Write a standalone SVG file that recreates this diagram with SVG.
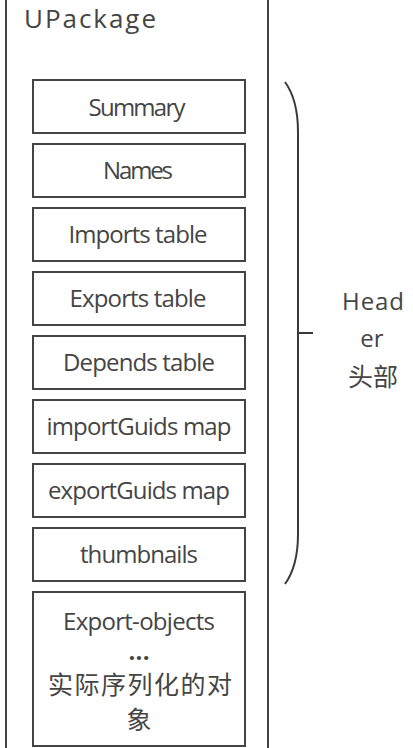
<svg xmlns="http://www.w3.org/2000/svg" width="413" height="748" viewBox="0 0 413 748">
<style>
.box{fill:#fff;stroke:#444;stroke-width:2}
.lbl{font-family:"Open Sans","Liberation Sans",sans-serif;font-size:24px;fill:#454545;text-anchor:middle}
.cjk{font-family:"Noto Sans CJK SC",sans-serif;font-size:25px;fill:#454545;text-anchor:middle}
.brace{fill:none;stroke:#3a3a3a;stroke-width:2}
</style>
<rect x="0" y="0" width="413" height="748" fill="#fff"/>
<g id="upackage">
<rect x="6" y="-10" width="262" height="770" fill="#fff" stroke="#444" stroke-width="2"/>
<text x="24" y="28" font-family="Open Sans, Liberation Sans, sans-serif" font-size="26" fill="#454545" textLength="132" lengthAdjust="spacing">UPackage</text>
</g>
<g id="summary"><rect class="box" x="33" y="80" width="212" height="53"/><text class="lbl" x="137" y="116" textLength="97" lengthAdjust="spacing">Summary</text></g>
<g id="names"><rect class="box" x="33" y="144" width="212" height="53"/><text class="lbl" x="138" y="179" textLength="70" lengthAdjust="spacing">Names</text></g>
<g id="imports"><rect class="box" x="33" y="208" width="212" height="53"/><text class="lbl" x="138" y="243" textLength="139" lengthAdjust="spacing">Imports table</text></g>
<g id="exports"><rect class="box" x="33" y="272" width="212" height="53"/><text class="lbl" x="138" y="307" textLength="137" lengthAdjust="spacing">Exports table</text></g>
<g id="depends"><rect class="box" x="33" y="336" width="212" height="53"/><text class="lbl" x="139" y="371" textLength="152" lengthAdjust="spacing">Depends table</text></g>
<g id="importguids"><rect class="box" x="33" y="400" width="212" height="53"/><text class="lbl" x="139" y="435" textLength="185" lengthAdjust="spacing">importGuids map</text></g>
<g id="exportguids"><rect class="box" x="33" y="464" width="212" height="53"/><text class="lbl" x="139" y="499" textLength="182" lengthAdjust="spacing">exportGuids map</text></g>
<g id="thumbnails"><rect class="box" x="33" y="528" width="212" height="53"/><text class="lbl" x="139" y="563" textLength="118" lengthAdjust="spacing">thumbnails</text></g>
<g id="exportobjects"><rect class="box" x="33" y="592" width="212" height="154"/>
<text class="lbl" x="139" y="630" textLength="152" lengthAdjust="spacing">Export-objects</text>
<text class="lbl" x="139" y="660" font-size="16" font-weight="bold" textLength="21" lengthAdjust="spacing">...</text>
<text class="cjk" x="140" y="694" textLength="184" lengthAdjust="spacing">实际序列化的对</text>
<text class="cjk" x="139" y="729">象</text>
</g>
<g id="connectors">
<path class="brace" d="M285,82 Q298,100 298,132 L298,534 Q298,566 285,584"/>
<line class="brace" x1="298" y1="333" x2="313" y2="333"/>
</g>
<g id="header">
<text class="lbl" x="373" y="310" font-size="25" textLength="62" lengthAdjust="spacing">Head</text>
<text class="lbl" x="372" y="347" font-size="25">er</text>
<text class="cjk" x="373" y="386" font-size="29">头部</text>
</g>
</svg>
